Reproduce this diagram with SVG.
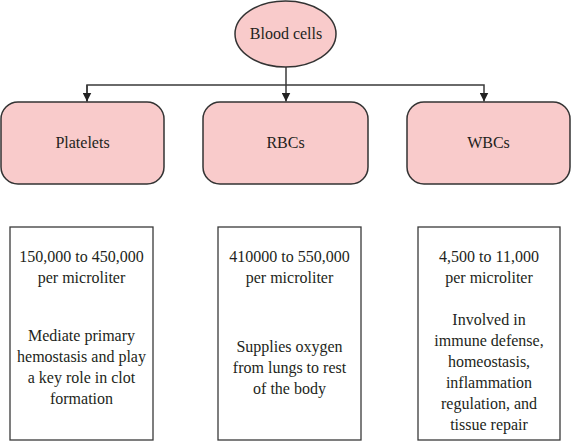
<svg xmlns="http://www.w3.org/2000/svg" width="572" height="442" viewBox="0 0 572 442">
<style>
.node{fill:#F9CBCB;stroke:#333;stroke-width:1.5}
.box{fill:#fff;stroke:#3a3a3a;stroke-width:1.3}
.t{font-family:"Liberation Serif",serif;font-size:16px;fill:#231f20;text-anchor:middle}
.c{stroke:#3a3a3a;stroke-width:1.5;fill:none}
</style>
<defs>
<marker id="ah" viewBox="0 0 10 10" refX="10" refY="5" markerWidth="9" markerHeight="9" markerUnits="userSpaceOnUse" orient="auto">
<path d="M0,0 L10,5 L0,10 z" fill="#222"/>
</marker>
</defs>
<g id="connectors">
<path class="c" d="M286,67 V101.5" marker-end="url(#ah)"/>
<path class="c" d="M87,101.5 V85 H484 V101.5" marker-end="url(#ah)"/>
<path class="c" d="M87,85 V101.5" marker-end="url(#ah)"/>
</g>
<g id="blood-cells">
<ellipse class="node" cx="285.5" cy="34" rx="50.5" ry="33"/>
<text class="t" x="286" y="39">Blood cells</text>
</g>
<g id="platelets">
<rect class="node" x="1" y="102" width="163" height="82" rx="17"/>
<text class="t" x="82.5" y="148">Platelets</text>
</g>
<g id="rbcs">
<rect class="node" x="203" y="102" width="165" height="82" rx="17"/>
<text class="t" x="285.5" y="148">RBCs</text>
</g>
<g id="wbcs">
<rect class="node" x="407" y="102" width="163" height="82" rx="17"/>
<text class="t" x="488.5" y="148">WBCs</text>
</g>
<g id="platelets-info">
<rect class="box" x="10" y="227" width="143" height="213"/>
<text class="t" x="81.5" y="262">150,000 to 450,000</text>
<text class="t" x="81.5" y="283">per microliter</text>
<text class="t" x="81.5" y="341">Mediate primary</text>
<text class="t" x="81.5" y="362">hemostasis and play</text>
<text class="t" x="81.5" y="383">a key role in clot</text>
<text class="t" x="81.5" y="404">formation</text>
</g>
<g id="rbcs-info">
<rect class="box" x="218" y="227" width="143" height="213"/>
<text class="t" x="289.5" y="262">410000 to 550,000</text>
<text class="t" x="289.5" y="283">per microliter</text>
<text class="t" x="289.5" y="352">Supplies oxygen</text>
<text class="t" x="289.5" y="373">from lungs to rest</text>
<text class="t" x="289.5" y="394">of the body</text>
</g>
<g id="wbcs-info">
<rect class="box" x="418" y="227" width="142" height="213"/>
<text class="t" x="489" y="262">4,500 to 11,000</text>
<text class="t" x="489" y="283">per microliter</text>
<text class="t" x="489" y="325">Involved in</text>
<text class="t" x="489" y="346">immune defense,</text>
<text class="t" x="489" y="367">homeostasis,</text>
<text class="t" x="489" y="388">inflammation</text>
<text class="t" x="489" y="409">regulation, and</text>
<text class="t" x="489" y="430">tissue repair</text>
</g>
</svg>
